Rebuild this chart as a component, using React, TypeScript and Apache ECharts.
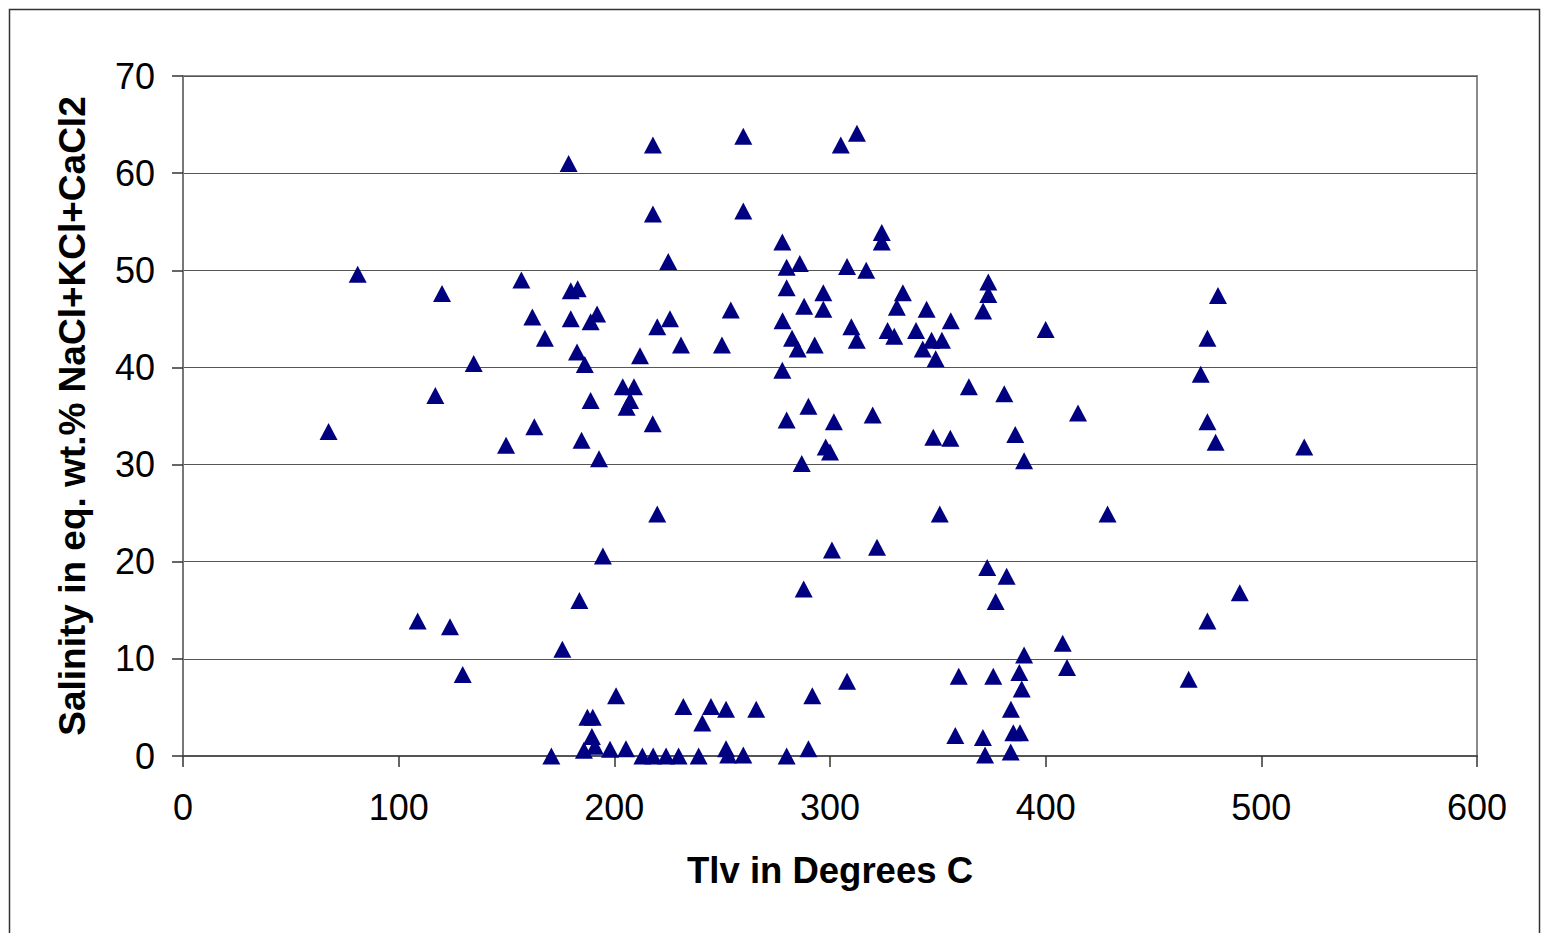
import React, { useEffect, useRef } from "react";
import * as echarts from "echarts";

// Temperature of homogenisation (Tlv, °C)
const tlv: number[] = [
  67.5, 81, 108.8, 117, 120.1, 123.8, 129.7, 134.8, 149.8, 156.9,
  162, 162.9, 167.8, 170.8, 175.9, 178.8, 179.8, 179.8, 183, 182.7,
  183.8, 184.8, 186.3, 185.9, 187.5, 190, 189, 189, 192, 189.6,
  191, 192.9, 194.7, 198, 200.8, 203.9, 209.1, 207.3, 205.7, 205.4,
  211.9, 213, 217.9, 217.9, 217.8, 218, 219.9, 219.9, 224, 225,
  225.8, 229.8, 230.9, 232, 239.1, 240.8, 244.8, 249.9, 251.8, 251.8,
  252.8, 254, 259.8, 259.8, 259.8, 265.8, 277.9, 278, 277.9, 279.9,
  279.9, 279.9, 279.9, 282.4, 285, 286, 286.9, 287.8, 288, 290,
  290, 291.8, 292.9, 296.9, 296.9, 298, 300, 300.9, 301.8, 305,
  307.9, 307.9, 309.9, 312.4, 312.5, 316.8, 319.8, 321.8, 324, 324,
  326.7, 329.8, 331, 333.8, 339.9, 343, 344.8, 347.1, 347.9, 349,
  350.9, 351.9, 355.8, 356, 358.1, 359.7, 364.4, 370.9, 371, 371.9,
  372.9, 373.4, 373.4, 375.7, 376.8, 380.8, 381.9, 383.8, 383.9, 385,
  385.9, 387.8, 388.1, 388.9, 390, 390, 400, 407.9, 409.9, 415,
  428.7, 466.3, 471.9, 475, 475, 475, 478.8, 479.9, 490, 519.9,
];

// Salinity (eq. wt.% NaCl+KCl+CaCl2)
const salinity: number[] = [
  33.4, 49.6, 13.9, 37.1, 47.6, 13.3, 8.4, 40.4, 32.0, 49.0,
  45.2, 33.9, 43.0, 0, 11.0, 61.0, 47.9, 45.0, 48.1, 41.6,
  16.0, 32.5, 40.3, 0.6, 4.0, 4.0, 36.6, 44.7, 45.5, 2.0,
  1.0, 30.6, 20.6, 0.7, 6.2, 38.0, 38.0, 36.6, 35.9, 0.75,
  41.2, 0, 62.9, 55.8, 34.2, 0, 44.2, 24.9, 0, 50.9,
  45.0, 0, 42.3, 5.1, 0, 3.4, 5.1, 42.3, 4.8, 0.75,
  0.1, 45.9, 63.8, 56.1, 0.1, 4.8, 52.9, 44.8, 39.7, 50.3,
  48.2, 34.6, 0, 43.0, 41.9, 50.7, 30.1, 17.2, 46.3, 36.0,
  0.75, 6.2, 42.3, 47.7, 46.0, 31.8, 31.3, 21.2, 34.4, 62.9,
  50.4, 7.7, 44.2, 42.8, 64.1, 50.0, 35.1, 21.5, 53.9, 52.9,
  43.8, 43.2, 46.2, 47.7, 43.8, 41.9, 46.0, 42.8, 32.8, 40.9,
  24.9, 42.8, 32.7, 44.8, 2.1, 8.2, 38.0, 1.9, 45.8, 0.1,
  19.4, 48.8, 47.5, 8.2, 15.9, 37.3, 18.5, 0.4, 4.8, 2.4,
  33.1, 8.6, 2.4, 6.9, 10.4, 30.4, 43.9, 11.6, 9.1, 35.3,
  24.9, 7.9, 39.3, 43.0, 34.4, 13.9, 32.3, 47.4, 16.8, 31.8,
];

const xTicks = { min: 0, max: 600, interval: 100 };
const yTicks = { min: 0, max: 70, interval: 10 };

const xTitle = "Tlv in Degrees C";
const yTitle = "Salinity in eq. wt.% NaCl+KCl+CaCl2";

export default function App() {
  const ref = useRef<HTMLDivElement>(null);

  useEffect(() => {
    if (!ref.current) return;
    const chart = echarts.init(ref.current, null, { renderer: "svg" });
    const data = tlv.map((t, i) => [t, salinity[i]]);
    const font = "'Liberation Sans', Arial, sans-serif";
    chart.setOption({
      animation: false,
      backgroundColor: "#ffffff",
      grid: {
        left: 183,
        top: 76,
        right: 64,
        bottom: 177,
        show: true,
        borderColor: "#8a8a8a",
        borderWidth: 2,
        backgroundColor: "transparent",
      },
      graphic: [
        {
          type: "rect",
          shape: { x: 9.5, y: 9.5, width: 1530, height: 960 },
          style: { fill: "none", stroke: "#333333", lineWidth: 1.5 },
          silent: true,
          z: -1,
        },
      ],
      xAxis: {
        type: "value",
        min: xTicks.min,
        max: xTicks.max,
        interval: xTicks.interval,
        name: xTitle,
        nameLocation: "middle",
        nameGap: 96,
        nameTextStyle: { fontFamily: font, fontSize: 36.5, fontWeight: "bold", color: "#000" },
        axisLine: { show: true, onZero: false, lineStyle: { color: "#555555", width: 2 } },
        axisTick: { show: true, inside: false, length: 11, lineStyle: { color: "#333", width: 1.5 } },
        axisLabel: { fontFamily: font, fontSize: 36, color: "#000", margin: 33 },
        splitLine: { show: false },
      },
      yAxis: {
        type: "value",
        min: yTicks.min,
        max: yTicks.max,
        interval: yTicks.interval,
        name: yTitle,
        nameLocation: "middle",
        nameGap: 92,
        nameTextStyle: { fontFamily: font, fontSize: 37, fontWeight: "bold", color: "#000" },
        axisLine: { show: true, onZero: false, lineStyle: { color: "#777777", width: 2 } },
        axisTick: { show: true, inside: false, length: 11, lineStyle: { color: "#333", width: 1.5 } },
        axisLabel: { fontFamily: font, fontSize: 36, color: "#000", margin: 28 },
        splitLine: { show: true, lineStyle: { color: "#555555", width: 1 } },
      },
      series: [
        {
          type: "scatter",
          data,
          symbol: "triangle",
          symbolSize: [18, 17],
          itemStyle: { color: "#000080", opacity: 1 },
        },
      ],
    });
    return () => chart.dispose();
  }, []);

  return (
    <div
      ref={ref}
      style={{ position: "fixed", left: 0, top: 0, width: 1541, height: 933 }}
    />
  );
}
